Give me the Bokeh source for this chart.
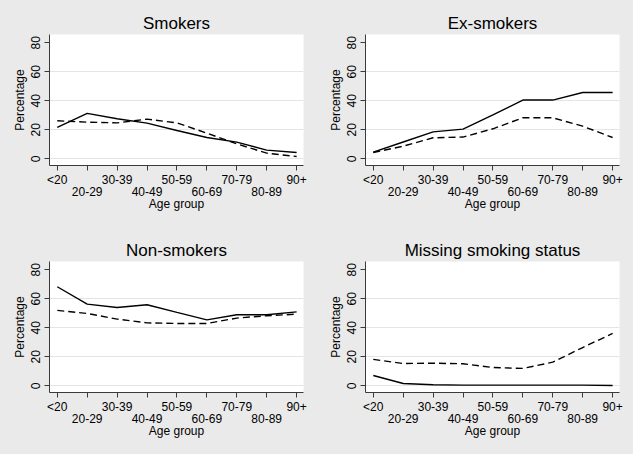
from bokeh.plotting import figure
from bokeh.models import Range1d, FixedTicker, LinearAxis
from bokeh.layouts import gridplot
from bokeh.embed import file_html
from bokeh.resources import INLINE
from jinja2 import Template

# ---------------- data ----------------
ages = ["<20", "20-29", "30-39", "40-49", "50-59", "60-69", "70-79", "80-89", "90+"]
titles = ["Smokers", "Ex-smokers", "Non-smokers", "Missing smoking status"]

smokers_solid = [21.6, 31.3, 27.6, 24.6, 19.5, 14.7, 11.5, 6.0, 4.4]
smokers_dashed = [26.2, 25.3, 24.8, 27.4, 24.8, 17.7, 10.3, 3.9, 1.6]
ex_solid = [4.6, 11.6, 18.6, 20.5, 30.3, 40.5, 40.5, 45.7, 45.7]
ex_dashed = [4.4, 8.7, 14.5, 15.0, 20.7, 28.3, 28.3, 22.5, 14.7]
non_solid = [68.3, 56.3, 54.0, 55.9, 50.6, 45.5, 49.0, 49.0, 51.0]
non_dashed = [52.0, 49.9, 46.0, 43.4, 43.0, 43.0, 46.7, 48.3, 49.4]
miss_solid = [7.1, 1.6, 0.7, 0.5, 0.5, 0.5, 0.5, 0.5, 0.2]
miss_dashed = [18.2, 15.4, 15.6, 15.2, 12.6, 12.0, 16.3, 26.4, 36.1]

y_ticks = [0, 20, 40, 60, 80]
grid_ticks = [0, 20, 40, 60]

# ---------------- style ----------------
FONT = "Liberation Sans"
BG = "#eaeaea"
AXIS_COLOR = "#3a3a3a"
GRID_COLOR = "#e4e4e4"


def panel(title, solid, dashed, width):
    xs = list(range(len(ages)))
    p = figure(width=width, height=227,
               x_range=Range1d(-0.26, 8.23), y_range=Range1d(-4.6, 85.7),
               output_backend="svg", toolbar_location=None,
               min_border_left=49, min_border_right=width - 303,
               min_border_top=34, min_border_bottom=62,
               background_fill_color="white", border_fill_color=BG,
               outline_line_color=None, title=title)
    p.title.align = "center"
    p.title.text_font = FONT
    p.title.text_font_size = "17px"
    p.title.text_font_style = "normal"
    p.title.text_color = "black"
    p.title.standoff = 4

    p.line(xs, solid, line_color="black", line_width=1.4)
    p.line(xs, dashed, line_color="black", line_width=1.4, line_dash="7 4")

    # grid
    p.xgrid.visible = False
    p.ygrid.ticker = FixedTicker(ticks=grid_ticks)
    p.ygrid.grid_line_color = GRID_COLOR
    p.ygrid.grid_line_width = 1

    # y axis
    ya = p.yaxis[0]
    ya.ticker = FixedTicker(ticks=y_ticks)
    ya.axis_label = "Percentage"
    ya.major_label_orientation = "vertical"
    ya.axis_line_color = AXIS_COLOR
    ya.major_tick_line_color = AXIS_COLOR
    ya.minor_tick_line_color = None
    ya.major_tick_out = 5
    ya.major_tick_in = 0
    ya.major_label_standoff = 4
    ya.major_label_text_font = FONT
    ya.major_label_text_font_size = "12px"
    ya.major_label_text_color = "black"
    ya.axis_label_text_font = FONT
    ya.axis_label_text_font_size = "12px"
    ya.axis_label_text_font_style = "normal"
    ya.axis_label_text_color = "black"
    ya.axis_label_standoff = 2

    # x axis: even labels on first row
    xa = p.xaxis[0]
    xa.ticker = FixedTicker(ticks=xs)
    xa.major_label_overrides = {i: (ages[i] if i % 2 == 0 else "") for i in xs}
    xa.axis_line_color = AXIS_COLOR
    xa.major_tick_line_color = AXIS_COLOR
    xa.minor_tick_line_color = None
    xa.major_tick_out = 5
    xa.major_tick_in = 0
    xa.major_label_standoff = 2
    xa.major_label_text_font = FONT
    xa.major_label_text_font_size = "12px"
    xa.major_label_text_color = "black"

    # odd labels on a second row
    xb = LinearAxis(ticker=FixedTicker(ticks=xs))
    xb.major_label_overrides = {i: (ages[i] if i % 2 == 1 else "") for i in xs}
    xb.axis_line_color = None
    xb.major_tick_line_color = None
    xb.minor_tick_line_color = None
    xb.major_tick_out = 0
    xb.major_tick_in = 0
    xb.major_label_standoff = -3
    xb.major_label_text_font = FONT
    xb.major_label_text_font_size = "12px"
    xb.major_label_text_color = "black"
    xb.axis_label = "Age group"
    xb.axis_label_standoff = -2
    xb.axis_label_text_font = FONT
    xb.axis_label_text_font_size = "12px"
    xb.axis_label_text_font_style = "normal"
    xb.axis_label_text_color = "black"
    p.add_layout(xb, "below")
    return p


p1 = panel(titles[0], smokers_solid, smokers_dashed, 316)
p2 = panel(titles[1], ex_solid, ex_dashed, 317)
p3 = panel(titles[2], non_solid, non_dashed, 316)
p4 = panel(titles[3], miss_solid, miss_dashed, 317)

grid = gridplot([[p1, p2], [p3, p4]], toolbar_location=None)

template = Template("""{% extends base %}
{% block preamble %}<style>html, body {margin:0; padding:0; background:#eaeaea;}</style>{% endblock %}""")

open("out.html", "w").write(file_html(grid, INLINE, title="Smoking status by age group", template=template))
